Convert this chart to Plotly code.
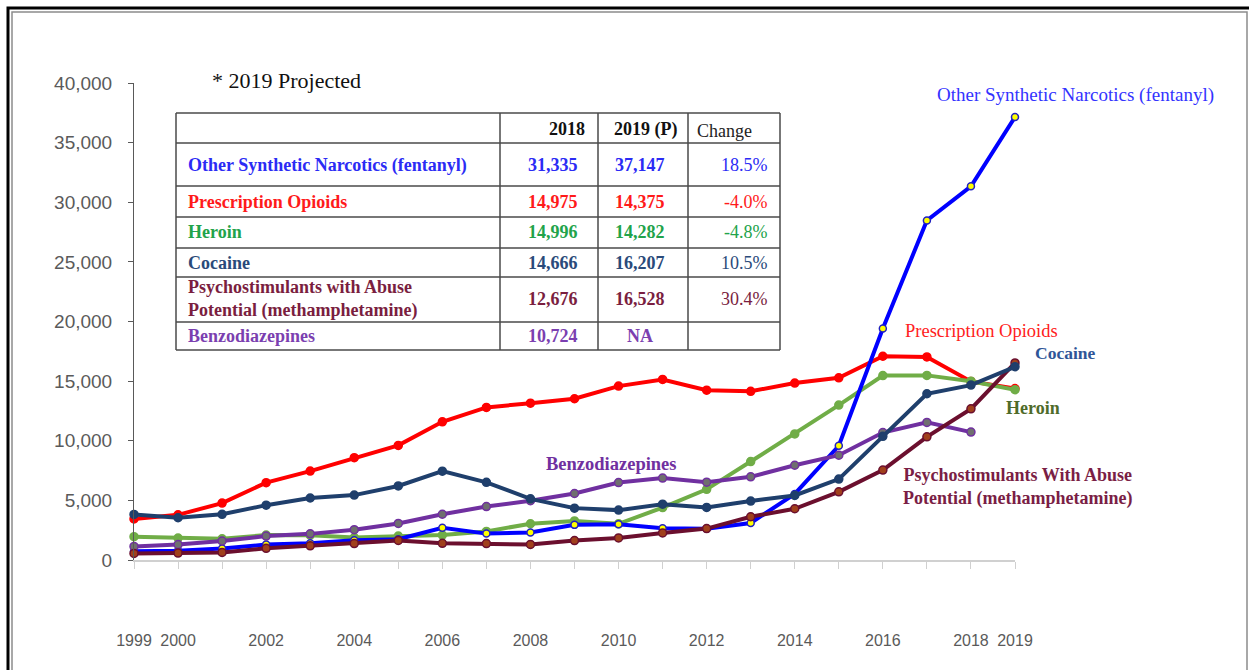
import plotly.graph_objects as go

# === Data ===

years = list(range(1999, 2020))
tick_labels = ["1999", "2000", "", "2002", "", "2004", "", "2006", "", "2008", "",
               "2010", "", "2012", "", "2014", "", "2016", "", "2018", "2019"]

fentanyl = [730, 782, 957, 1295, 1400, 1664, 1742, 2707, 2213, 2306, 2946,
            3007, 2666, 2628, 3105, 5544, 9580, 19413, 28466, 31335, 37147]
rx_opioids = [3442, 3785, 4770, 6483, 7456, 8577, 9612, 11589, 12796, 13149, 13523,
              14583, 15140, 14240, 14145, 14838, 15281, 17087, 17029, 14975, 14375]
heroin = [1960, 1842, 1779, 2089, 2080, 1878, 2009, 2088, 2399, 3041, 3278,
          3036, 4397, 5925, 8257, 10574, 12989, 15469, 15482, 14996, 14282]
cocaine = [3822, 3544, 3833, 4599, 5199, 5443, 6208, 7448, 6512, 5129, 4350,
           4183, 4681, 4404, 4944, 5415, 6784, 10375, 13942, 14666, 16207]
psychostim = [547, 578, 637, 976, 1193, 1381, 1636, 1401, 1378, 1302, 1632,
              1854, 2266, 2635, 3627, 4298, 5716, 7542, 10333, 12676, 16528]
benzo = [1135, 1298, 1594, 2004, 2191, 2546, 3066, 3836, 4482, 4976, 5577,
         6497, 6872, 6524, 6973, 7945, 8791, 10684, 11537, 10724, None]

table_names = ["Other Synthetic Narcotics (fentanyl)", "Prescription Opioids", "Heroin",
               "Cocaine", "Psychostimulants with Abuse<br>Potential (methamphetamine)",
               "Benzodiazepines"]
table_2018 = ["31,335", "14,975", "14,996", "14,666", "12,676", "10,724"]
table_2019 = ["37,147", "14,375", "14,282", "16,207", "16,528", "NA"]
table_change = ["18.5%", "-4.0%", "-4.8%", "10.5%", "30.4%", ""]
table_colors = ["#2B2BF5", "#FF1A1A", "#22A34A", "#2A4A7A", "#7A1E40", "#7B3FB0"]

# === Layout helpers (pixel -> paper) ===

W, H = 1249, 670
L, R, T, B = 134, 1015, 83, 560


def px(x):
    return (x - L) / (R - L)


def py(y):
    return (B - y) / (B - T)


SERIF = "Liberation Serif"

# === Series ===

series = [
    (rx_opioids, "#FF0000", "#FF0000", "#FF0000", 8),
    (heroin, "#70AD47", "#70AD47", "#70AD47", 8),
    (fentanyl, "#0000FF", "#FFFF00", "#2020C0", 7),
    (benzo, "#7030A0", "#6F6F6F", "#7030A0", 8),
    (psychostim, "#6B0F2E", "#A0401C", "#6B0F2E", 8),
    (cocaine, "#1F3F6C", "#1F3F6C", "#1F3F6C", 8),
]

fig = go.Figure()
for vals, lc, mc, mlc, ms in series:
    fig.add_trace(go.Scatter(
        x=years, y=vals, mode="lines+markers",
        line=dict(color=lc, width=4),
        marker=dict(color=mc, size=ms, line=dict(color=mlc, width=1.5)),
        cliponaxis=False, showlegend=False,
    ))

# === Table ===

shapes = []
tx0, tx1 = 176, 780
col_lines = [500, 598, 688]
row_lines = [113, 143, 186, 217, 248, 277, 322, 350]
line_style = dict(color="#4A4A4A", width=1.5)
for y in row_lines:
    shapes.append(dict(type="line", xref="paper", yref="paper",
                       x0=px(tx0), x1=px(tx1), y0=py(y), y1=py(y), line=line_style))
for x in [tx0] + col_lines + [tx1]:
    shapes.append(dict(type="line", xref="paper", yref="paper",
                       x0=px(x), x1=px(x), y0=py(row_lines[0]), y1=py(row_lines[-1]),
                       line=line_style))

# frame
shapes.append(dict(type="rect", xref="paper", yref="paper",
                   x0=px(8), x1=px(1262), y0=py(8), y1=py(720),
                   line=dict(color="#000000", width=3)))
shapes.append(dict(type="rect", xref="paper", yref="paper",
                   x0=px(12), x1=px(1247), y0=py(12), y1=py(720),
                   line=dict(color="#8C8C8C", width=1.5)))

annotations = []


def note(text, x, y, color, size=18, xanchor="center"):
    annotations.append(dict(
        text=text, x=px(x), y=py(y), xref="paper", yref="paper",
        xanchor=xanchor, yanchor="middle", showarrow=False,
        align=xanchor if xanchor != "center" else "center",
        font=dict(family=SERIF, size=size, color=color),
    ))


note("* 2019 Projected", 210, 80, "#111111", size=22, xanchor="left")
note("<b>2018</b>", 567, 129, "#111111")
note("<b>2019 (P)</b>", 645, 129, "#111111")
note("Change", 724, 131, "#222222")

row_y = [165, 202, 232, 263, 299, 336]
for name, v18, v19, ch, c, y in zip(table_names, table_2018, table_2019,
                                    table_change, table_colors, row_y):
    note("<b>" + name + "</b>", 186, y, c, xanchor="left")
    note("<b>" + v18 + "</b>", 553, y, c)
    note("<b>" + v19 + "</b>", 640, y, c)
    note(ch, 770, y, c, xanchor="right")

# line labels
note("Other Synthetic Narcotics (fentanyl)", 1075, 95, "#3333FF", size=19)
note("Prescription Opioids", 981, 331, "#FF2020", size=18.5)
note("<b>Cocaine</b>", 1065, 353, "#2F5597", size=17.5)
note("<b>Heroin</b>", 1033, 408, "#4F6B2A")
note("<b>Psychostimulants With Abuse<br>Potential (methamphetamine)</b>", 1017, 487, "#7A1E45")
note("<b>Benzodiazepines</b>", 611, 464, "#7030A0", size=18.5)

fig.update_layout(
    width=W, height=H, autosize=False,
    margin=dict(l=L, r=W - R, t=T, b=H - B, pad=0),
    plot_bgcolor="#FFFFFF", paper_bgcolor="#FFFFFF",
    shapes=shapes, annotations=annotations,
    xaxis=dict(
        range=[1999, 2019], tickvals=years, ticktext=tick_labels,
        showgrid=False, zeroline=False, showline=True,
        linecolor="#D0D0D0", linewidth=1.5,
        ticks="outside", ticklen=7, tickcolor="#D0D0D0",
        ticklabelstandoff=58,
        tickfont=dict(family="Liberation Sans", size=16, color="#5A5A5A"),
    ),
    yaxis=dict(
        range=[0, 40000], dtick=5000, tickformat=",",
        showgrid=False, zeroline=False, showline=True,
        linecolor="#595959", linewidth=1,
        ticks="outside", ticklen=5, tickcolor="#595959",
        ticklabelstandoff=12,
        tickfont=dict(family="Liberation Sans", size=19, color="#5A5A5A"),
    ),
)

fig.write_html("out.html", config={"displayModeBar": False},
               post_script="document.body.style.margin='0';")
